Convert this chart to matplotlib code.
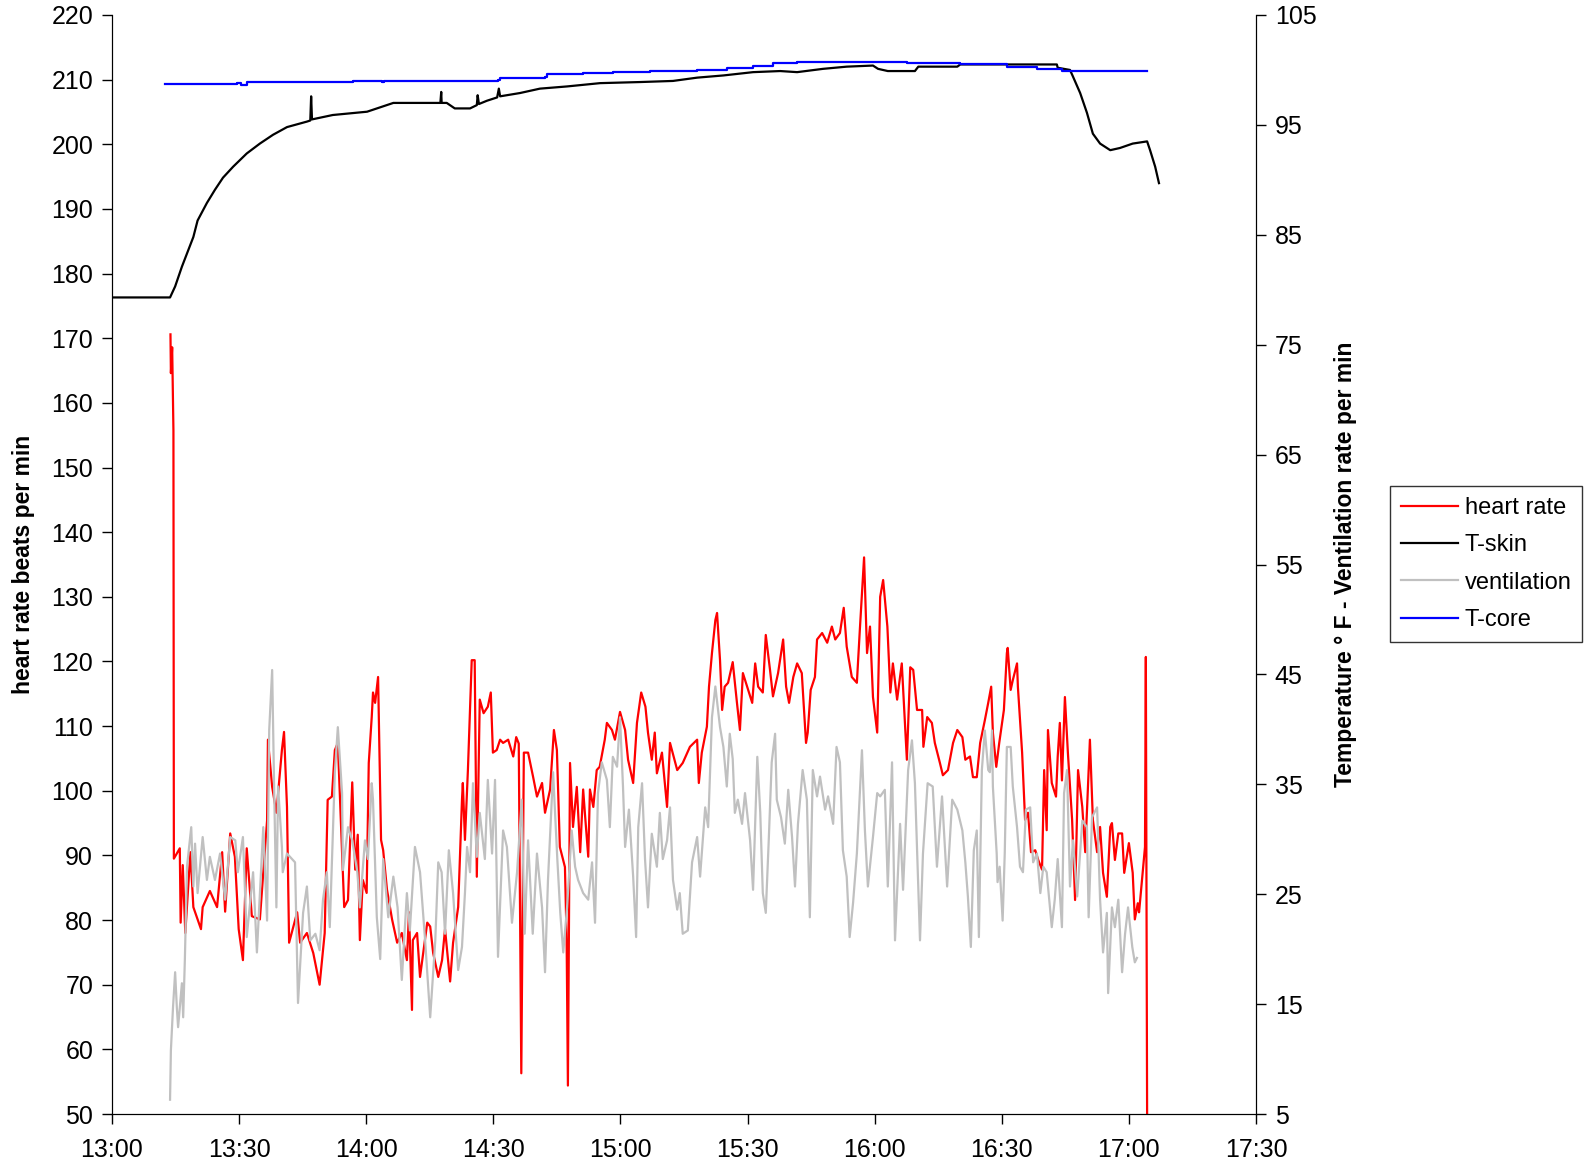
import numpy as np
import matplotlib
matplotlib.use("Agg")
import matplotlib.pyplot as plt
from matplotlib.ticker import FuncFormatter, MultipleLocator, FixedLocator

plt.rcParams['font.family'] = ['Liberation Sans', 'DejaVu Sans']

# minutes after 13:00 -> heart rate (beats/min), left axis
hr_t = [13.8, 13.9, 14.2, 14.5, 14.6, 16.0, 16.2, 16.7, 17.3, 18.5, 19.2, 21.0, 21.4, 23.1, 24.8,
        26.0, 26.7, 27.9, 29.0, 29.9, 30.9, 31.8, 33.0, 34.9, 36.6, 36.8, 37.8, 38.8, 40.1, 40.6,
        41.3, 41.8, 43.7, 44.4, 46.0, 47.5, 49.0, 50.2, 50.9, 51.9, 52.6, 53.3, 54.8, 55.7, 56.7,
        57.4, 58.0, 58.5, 59.2, 60.1, 60.6, 61.3, 61.6, 62.1, 62.8, 63.5, 64.0, 64.9, 66.1, 67.3,
        68.4, 69.6, 70.1, 70.8, 71.0, 72.0, 72.7, 74.4, 75.1, 75.8, 77.0, 77.9, 78.6, 79.8, 80.5,
        81.7, 82.6, 82.8, 83.3, 84.0, 84.9, 85.6, 86.1, 86.8, 87.7, 88.7, 89.4, 89.9, 90.8, 91.6,
        92.3, 93.5, 94.7, 95.4, 96.0, 96.6, 97.2, 98.2, 99.4, 100.3, 101.5, 102.2, 103.4, 104.3,
        105.0, 105.7, 106.9, 107.3, 107.6, 108.1, 108.8, 109.7, 110.5, 111.2, 111.6, 112.4, 112.8,
        113.6, 114.4, 115.1, 116.3, 116.8, 118.0, 118.7, 119.9, 121.1, 121.8, 123.0, 123.9, 124.9,
        125.9, 126.5, 127.4, 128.1, 128.6, 129.8, 131.0, 131.7, 133.4, 134.7, 136.4, 138.1, 138.5,
        139.2, 140.4, 140.9, 141.6, 142.4, 142.8, 143.5, 144.0, 144.6, 145.4, 146.5, 147.5, 148.2,
        148.9, 149.9, 151.1, 151.8, 152.5, 153.6, 154.3, 155.3, 156.0, 157.2, 158.4, 159.1, 159.8,
        160.8, 161.7, 162.8, 163.8, 164.2, 164.9, 165.9, 166.4, 167.6, 168.8, 169.9, 170.7, 171.8,
        172.7, 173.4, 174.6, 175.8, 176.5, 177.5, 178.2, 178.9, 179.6, 180.6, 181.3, 182.0, 183.0,
        183.7, 184.3, 185.3, 186.4, 187.6, 188.4, 189.1, 190.0, 191.2, 191.5, 192.4, 193.5, 194.2,
        195.4, 196.1, 197.3, 198.5, 199.5, 200.7, 201.4, 202.5, 203.2, 204.1, 204.9, 206.0, 206.8,
        207.5, 207.9, 208.7, 209.4, 210.5, 211.2, 211.4, 212.1, 212.6, 213.6, 213.8, 214.8, 215.5,
        216.2, 216.9, 217.9, 218.6, 219.5, 220.0, 220.6, 220.9, 221.8, 222.8, 223.2, 223.7, 224.2,
        224.9, 225.6, 226.6, 227.3, 228.0, 229.0, 229.7, 230.8, 231.5, 232.5, 233.2, 233.9, 234.8,
        235.6, 236.0, 236.7, 237.5, 238.4, 238.9, 240.0, 240.9, 241.4, 242.1, 242.4, 243.1, 243.3,
        243.8, 244.0, 244.3]
hr_v = [170.6, 164.6, 168.6, 155.7, 89.5, 91.1, 79.6, 88.5, 78.0, 90.5, 82.0, 78.6, 82.0, 84.5, 82.0,
        90.5, 81.3, 93.4, 89.8, 78.6, 73.8, 91.1, 80.6, 80.1, 95.4, 107.9, 100.6, 96.6, 106.3, 109.1,
        97.5, 76.5, 81.2, 76.5, 78.0, 74.9, 70.0, 78.0, 98.6, 99.1, 106.3, 107.4, 82.0, 83.1, 101.3,
        87.8, 93.2, 76.9, 86.2, 84.2, 104.3, 111.4, 115.2, 113.6, 117.6, 92.4, 90.8, 84.7, 80.1, 76.5,
        78.0, 73.8, 81.2, 66.1, 76.9, 78.0, 71.2, 79.6, 79.0, 74.9, 71.2, 73.8, 78.6, 70.5, 76.5,
        82.0, 98.6, 101.2, 92.4, 103.2, 120.2, 120.2, 86.7, 114.1, 112.0, 113.0, 115.2, 105.9, 106.3, 107.9,
        107.4, 107.9, 105.3, 108.3, 107.3, 56.3, 105.9, 105.9, 102.1, 99.1, 101.2, 96.6, 100.2, 109.4,
        106.3, 91.3, 88.2, 76.9, 54.4, 104.3, 94.4, 100.6, 90.5, 100.2, 96.6, 89.8, 100.2,
        97.5, 103.2, 103.7, 107.9, 110.5, 109.4, 107.9, 112.2, 109.4, 104.8, 101.2, 110.5, 115.2,
        113.0, 109.0, 104.8, 109.0, 102.7, 105.9, 97.5, 107.4, 103.2, 104.3, 106.8, 107.9, 101.2,
        105.9, 109.9, 116.1, 121.3, 126.4, 127.5, 120.2, 112.5, 116.1, 116.7, 119.9, 113.6, 109.4,
        118.2, 116.1, 113.6, 119.7, 116.1, 115.2, 124.1, 118.7, 114.6, 118.2, 123.4, 116.1, 113.6,
        117.6, 119.7, 118.2, 107.4, 109.0, 115.6, 117.6, 123.4, 124.4, 122.9, 125.4, 123.4, 124.4,
        128.3, 122.3, 117.6, 116.7, 124.9, 136.1, 121.3, 125.4, 114.5, 109.0, 130.0, 132.6, 125.4,
        115.2, 119.7, 114.1, 119.7, 104.8, 119.1, 118.7, 112.5, 112.5, 106.8, 111.4, 110.5, 107.4,
        104.3, 102.4, 103.2, 107.4, 109.4, 108.3, 104.8, 105.3, 102.1, 102.1, 107.4, 110.9, 113.6,
        116.1, 109.0, 103.7, 107.4, 112.5, 121.3, 122.1, 115.6, 117.1, 119.7, 116.1, 105.9, 95.5,
        96.6, 90.5, 90.8, 89.3, 87.8, 103.2, 93.9, 109.4, 101.2, 99.1, 105.3, 110.5, 101.6,
        114.5, 105.9, 95.5, 83.1, 103.2, 97.5, 90.5, 107.9, 95.5, 90.5, 94.4, 87.3, 83.6,
        94.4, 95.0, 89.3, 93.4, 93.4, 87.3, 91.9, 87.3, 80.1, 82.6, 81.2, 86.2, 87.8,
        91.3, 120.7, 50]

# minutes after 13:00 -> ventilation rate per min, right axis
vent_t = [13.7, 13.9, 14.4, 14.9, 15.3, 15.6, 16.5, 16.8, 17.2, 17.7, 18.7, 19.2, 19.6, 20.2, 21.4,
          22.4, 23.1, 24.3, 25.5, 26.7, 27.9, 29.1, 29.7, 30.9, 31.8, 33.3, 34.2, 35.7, 36.6, 37.1,
          37.8, 38.3, 38.8, 39.2, 40.1, 40.3, 41.3, 43.2, 43.9, 45.1, 46.0, 46.8, 48.0, 49.0, 49.8,
          50.7, 51.4, 52.6, 53.3, 54.3, 54.5, 55.7, 56.7, 57.9, 58.5, 59.7, 60.4, 61.3, 61.6, 62.5,
          63.3, 64.0, 65.2, 66.4, 67.4, 68.4, 69.6, 70.3, 71.5, 72.7, 73.9, 75.1, 76.3, 77.0, 77.8,
          78.6, 79.5, 80.5, 81.7, 82.6, 83.3, 83.8, 84.5, 85.2, 86.1, 86.8, 88.0, 88.7, 89.7, 90.4,
          91.1, 92.3, 93.2, 94.4, 95.6, 96.7, 97.4, 98.2, 99.3, 100.3, 101.5, 102.2, 102.9, 104.1,
          105.1, 105.8, 106.5, 107.4, 108.5, 109.3, 110.0, 111.2, 112.4, 113.3, 114.0, 114.7, 115.6,
          116.8, 117.5, 118.2, 119.2, 119.9, 120.6, 121.1, 122.0, 123.0, 123.7, 124.2, 125.1, 125.8,
          126.5, 127.4, 128.6, 129.3, 130.0, 131.0, 131.7, 132.4, 133.4, 134.0, 134.7, 135.9, 136.9,
          138.1, 138.8, 140.0, 140.7, 141.6, 142.4, 143.5, 144.3, 145.1, 145.8, 146.5, 147.0, 147.7,
          148.7, 149.4, 150.6, 151.3, 152.3, 153.0, 153.6, 154.3, 155.0, 155.7, 156.5, 156.9, 157.9,
          158.8, 159.6, 160.5, 161.2, 161.9, 163.0, 164.0, 164.7, 165.4, 166.4, 167.1, 168.3, 169.0,
          170.2, 171.0, 171.8, 172.5, 173.4, 174.1, 174.9, 175.8, 177.0, 177.7, 178.4, 179.6, 180.6,
          181.3, 182.4, 183.1, 184.1, 184.8, 186.0, 186.7, 187.9, 188.8, 189.5, 190.7, 191.4, 192.5,
          193.7, 194.7, 195.9, 197.1, 198.3, 199.5, 200.7, 201.4, 202.0, 202.7, 203.4, 204.1, 204.6,
          205.3, 206.0, 206.8, 207.2, 207.7, 207.9, 208.8, 209.0, 209.5, 210.2, 210.7, 211.2, 212.1,
          212.6, 213.6, 214.3, 215.0, 215.7, 216.7, 217.4, 218.3, 219.1, 219.8, 220.6, 221.8, 222.5,
          223.2, 224.2, 224.7, 225.4, 226.1, 226.8, 227.8, 229.0, 230.1, 230.5, 231.3, 232.5, 233.2,
          233.9, 234.8, 235.1, 236.0, 236.7, 237.5, 238.4, 239.1, 239.8, 240.8, 241.4, 241.9]
vent_v = [6.3, 10.8, 14.7, 17.9, 14.7, 12.9, 16.9, 13.8, 19.1, 27.5, 31.1, 25.7, 29.6, 25.1, 30.2,
          26.3, 28.4, 26.3, 28.7, 24.5, 30.2, 29.9, 27.0, 30.2, 21.1, 27.0, 19.7, 31.1, 22.6, 39.9,
          45.4, 33.9, 23.8, 34.8, 29.3, 27.0, 28.7, 27.9, 15.1, 23.3, 25.7, 20.8, 21.4, 19.9, 24.5,
          27.0, 22.0, 36.1, 40.2, 34.2, 27.2, 31.1, 29.9, 27.0, 23.8, 29.9, 28.2, 35.1, 33.6, 22.9,
          19.1, 28.2, 22.9, 26.6, 23.8, 17.2, 25.1, 21.7, 29.3, 27.0, 20.8, 13.8, 20.8, 27.9, 27.0,
          21.4, 29.0, 25.1, 18.1, 20.2, 25.1, 29.3, 27.0, 35.1, 28.4, 32.4, 28.2, 35.4, 28.7, 35.4,
          19.3, 30.8, 29.3, 22.4, 27.0, 33.6, 21.4, 29.9, 21.4, 28.7, 23.8, 17.9, 26.3, 36.1,
          28.2, 23.3, 19.7, 23.8, 30.8, 27.5, 26.3, 25.1, 24.5, 27.9, 22.4, 34.2, 37.0,
          35.4, 31.1, 37.5, 36.6, 41.1, 34.8, 29.3, 32.7, 26.6, 21.1, 31.1, 35.1, 28.2,
          23.8, 30.5, 27.5, 32.4, 28.2, 29.9, 32.9, 26.3, 23.6, 25.1, 21.4, 21.7, 27.9,
          30.2, 26.6, 32.9, 31.1, 41.1, 43.9, 40.2, 38.4, 34.8, 39.6, 37.3, 32.4, 33.6,
          31.4, 34.2, 29.9, 25.4, 37.5, 32.4, 25.1, 23.3, 29.9, 37.0, 39.6, 33.6, 32.0,
          29.6, 34.5, 30.2, 25.7, 31.4, 36.3, 33.6, 22.9, 36.3, 33.9, 35.7, 32.7, 33.9,
          31.4, 38.4, 37.0, 29.0, 26.6, 21.1, 24.2, 28.7, 38.1, 30.8, 25.7, 30.2, 34.2,
          33.9, 34.5, 25.7, 37.0, 20.8, 31.4, 25.4, 36.3, 39.0, 35.1, 20.8, 28.7, 35.1,
          34.8, 27.5, 33.9, 25.7, 33.6, 32.7, 30.8, 27.9, 24.8, 20.2, 29.0, 30.8, 21.1,
          36.3, 39.9, 36.3, 36.1, 39.9, 34.8, 28.7, 26.1, 27.5, 22.6, 28.7, 38.4, 38.4,
          34.8, 31.1, 27.5, 27.0, 32.7, 32.9, 27.9, 28.7, 25.1, 27.5, 27.0, 22.0, 24.5,
          28.2, 22.0, 34.2, 36.3, 25.7, 29.9, 24.8, 31.7, 31.1, 22.9, 32.0, 32.9, 24.5,
          19.7, 23.3, 16.0, 23.8, 22.0, 24.5, 17.9, 21.4, 23.8, 20.2, 18.8, 19.2]

# skin temperature (deg F), right axis
tskin_t = [0.0, 13.7, 14.9, 16.5, 18.0, 19.2, 20.2, 22.4, 24.3, 26.2, 28.6, 31.8, 34.9, 38.0, 41.3,
           46.0, 46.8, 47.0, 47.2, 52.1, 60.2, 63.3, 66.4, 77.5, 77.7, 77.8, 79.0, 80.9, 84.5, 86.1,
           86.3, 86.6, 88.5, 90.9, 91.3, 91.6, 96.3, 101.0, 107.4, 115.2, 124.7, 132.4, 138.1, 144.3,
           151.3, 157.7, 161.7, 167.8, 173.4, 179.6, 180.8, 183.1, 189.5, 190.3, 199.5, 200.2, 211.2,
           223.0, 223.2, 226.1, 226.8, 228.5, 230.1, 231.5, 233.2, 235.6, 237.9, 240.9, 244.3, 245.0,
           246.2, 247.1]
tskin_v = [79.3, 79.3, 80.3, 82.1, 83.6, 84.8, 86.3, 87.9, 89.1, 90.2, 91.2, 92.4, 93.3, 94.1, 94.8,
           95.3, 95.4, 97.6, 95.5, 95.9, 96.2, 96.6, 97.0, 97.0, 98.0, 97.0, 97.0, 96.5, 96.5, 96.8,
           97.7, 96.9, 97.2, 97.5, 98.3, 97.6, 97.9, 98.3, 98.5, 98.8, 98.9, 99.0, 99.3, 99.5,
           99.8, 99.9, 99.8, 100.1, 100.3, 100.4, 100.1, 99.9, 99.9, 100.3, 100.3, 100.5, 100.5,
           100.5, 100.2, 100.0, 99.4, 97.9, 96.1, 94.2, 93.3, 92.7, 92.9, 93.3, 93.5, 92.7,
           91.2, 89.7]

# core temperature (deg F), right axis
tcore_t = [12.5, 29.6, 30.4, 30.9, 31.8, 56.9, 63.7, 64.2, 91.1, 91.6, 102.2, 102.7, 111.2, 118.2,
           126.9, 138.1, 145.1, 151.3, 156.0, 161.7, 187.6, 200.2, 211.2, 218.3, 224.2, 244.3]
tcore_v = [98.7, 98.8, 98.6, 98.6, 98.9, 99.0, 98.9, 99.0, 99.1, 99.3, 99.4, 99.6, 99.7, 99.8,
           99.9, 100.0, 100.2, 100.4, 100.6, 100.7, 100.6, 100.5, 100.3, 100.1, 99.9, 99.9]

W, H = 1585, 1164
fig = plt.figure(figsize=(W / 100, H / 100), dpi=100)
ax = fig.add_axes([112 / W, 1 - 1114 / H, (1256 - 112) / W, (1114 - 15) / H])
ax2 = ax.twinx()

l1, = ax.plot(hr_t, hr_v, color='#ff0000', lw=1.6, label='heart rate')
l2, = ax2.plot(tskin_t, tskin_v, color='black', lw=1.6, label='T-skin')
l3, = ax2.plot(vent_t, vent_v, color='#c0c0c0', lw=1.6, label='ventilation')
l4, = ax2.plot(tcore_t, tcore_v, color='#0000ff', lw=1.6, drawstyle='steps-post', label='T-core')

ax.set_xlim(0, 270)
ax.set_ylim(50, 220)
ax2.set_ylim(5, 105)
ax.xaxis.set_major_locator(MultipleLocator(30))
ax.yaxis.set_major_locator(MultipleLocator(10))
ax2.yaxis.set_major_locator(FixedLocator(list(range(5, 106, 10))))
ax.xaxis.set_major_formatter(FuncFormatter(lambda v, p: '%d:%02d' % (13 + int(v) // 60, int(v) % 60)))

for a in (ax, ax2):
    a.spines['top'].set_visible(False)
    a.tick_params(direction='out', length=7.5, width=1, labelsize=18, colors='black', pad=6)
ax.tick_params(axis='x', pad=10)

ax.set_ylabel('heart rate beats per min', fontsize=16.5, fontweight='bold')
ax2.set_ylabel('Temperature ° F - Ventilation rate per min', fontsize=16.5, fontweight='bold')
ax.yaxis.set_label_coords(-0.067, 0.5)
ax2.yaxis.set_label_coords(1.068, 0.5)

leg = fig.legend([l1, l2, l3, l4], ['heart rate', 'T-skin', 'ventilation', 'T-core'],
                 loc='center left', bbox_to_anchor=(1390 / W, 1 - 564 / H),
                 fontsize=17, frameon=True, fancybox=False, shadow=False,
                 handlelength=2.45, handletextpad=0.27, borderpad=0.45, labelspacing=0.65,
                 borderaxespad=0)
leg.get_frame().set_edgecolor('black')
leg.get_frame().set_linewidth(1.0)

fig.savefig('out.png', dpi=100)
